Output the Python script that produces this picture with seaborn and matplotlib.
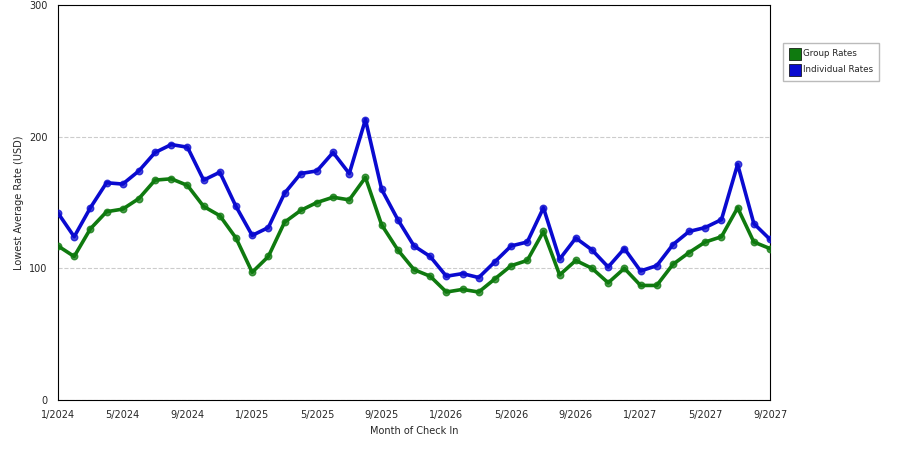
import matplotlib
matplotlib.use("Agg")
import matplotlib.pyplot as plt
import seaborn as sns
import pandas as pd
import numpy as np

months = pd.date_range("2024-01-01", "2027-09-01", freq="MS")
individual = [142,124,146,165,164,174,188,194,192,167,173,147,125,131,157,172,174,188,172,213,160,137,117,109,94,96,93,105,117,120,146,107,123,114,101,115,98,102,118,128,131,137,179,134,122]
group = [117,109,130,143,145,153,167,168,163,147,140,123,97,109,135,144,150,154,152,169,133,114,99,94,82,84,82,92,102,106,128,95,106,100,89,100,87,87,103,112,120,124,146,120,115]
tick_labels = ["1/2024","5/2024","9/2024","1/2025","5/2025","9/2025","1/2026","5/2026","9/2026","1/2027","5/2027","9/2027"]

idx = np.arange(len(months))
df = pd.DataFrame({"m": np.concatenate([idx, idx]),
                   "rate": group + individual,
                   "series": ["Group Rates"]*len(idx) + ["Individual Rates"]*len(idx)})

sns.set_style("white")
plt.rcParams['font.family'] = ['DejaVu Sans']
fig = plt.figure(figsize=(9, 4.5), dpi=100)
ax = fig.add_axes([58/900, 50/450, 712/900, 395/450])
pal = {"Group Rates": "#0f7a0f", "Individual Rates": "#0a0ad0"}
sns.lineplot(data=df, x="m", y="rate", hue="series", palette=pal, lw=2.6, ax=ax, legend=False)
for s, c in pal.items():
    d = df[df.series == s]
    ax.scatter(d.m, d.rate, s=22, color=c, edgecolor=c, zorder=3, alpha=0.75)
    ax.scatter([], [], marker="s", s=70, color=c, edgecolor="black", lw=0.5, label=s)

ax.set_xlim(0, 44)
ax.set_ylim(0, 300)
ax.set_xticks(np.arange(0, 45, 4))
ax.set_xticklabels(tick_labels, fontsize=7)
ax.set_yticks([0, 100, 200, 300])
ax.set_yticklabels(["0", "100", "200", "300"], fontsize=7)
ax.tick_params(length=4, direction="out", width=0.8)
ax.yaxis.grid(True, ls="--", color="#cccccc", lw=0.8)
for sp in ax.spines.values():
    sp.set_color("black"); sp.set_linewidth(0.8)
ax.set_xlabel("Month of Check In", fontsize=7)
ax.set_ylabel("Lowest Average Rate (USD)", fontsize=7)
ax.legend(loc="upper left", bbox_to_anchor=(779/900, 411/450), bbox_transform=fig.transFigure,
          fontsize=6.3, frameon=True, fancybox=False, edgecolor="#aaaaaa", handletextpad=0.3,
          handlelength=1.2, labelspacing=0.8, borderpad=0.7)
fig.savefig("out.png", dpi=100)
